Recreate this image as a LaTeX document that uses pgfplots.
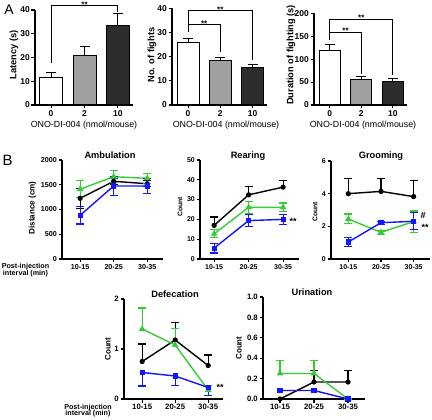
\documentclass[border=0pt]{standalone}
\usepackage{fontspec}
\setmainfont{Liberation Sans}
\usepackage{pgfplots}
\pgfplotsset{compat=1.18}
\definecolor{pgreen}{RGB}{51,204,51}
\definecolor{pblue}{RGB}{20,20,255}
\definecolor{bargray}{RGB}{160,160,160}
\definecolor{bardark}{RGB}{45,45,45}
\newcommand{\fs}[1]{\fontsize{#1}{#1}\selectfont}
\tikzset{stars/.style={anchor=base, yshift=-1.5bp, inner sep=0pt, font=\bfseries\fs{8}}}

\pgfplotsset{
  base/.style={scale only axis, anchor=south west,
    axis x line*=bottom, axis y line*=left,
    axis line style={-, line width=1.1pt},
    tick style={black, line width=1.1pt},
    tick align=outside, major tick length=3.5bp, clip=false,
    xtick={0,1,2}, ymin=0, scaled y ticks=false,
    /pgf/number format/assume math mode=true,
    /pgf/number format/1000 sep={},
    yticklabel style={inner sep=1.5bp},
    xticklabel style={inner sep=1.5bp}},
  barax/.style={base, xticklabels={0,2,10},
    ticklabel style={font=\bfseries\fs{8.5}}},
  lineax/.style={base, xticklabels={10-15,20-25,30-35},
    ticklabel style={font=\bfseries\fs{#1}}},
  bar/.style n args={2}{ybar, bar shift=0pt, bar width=#2, fill=#1, draw=black, line width=1pt,
    error bars/y dir=plus, error bars/y explicit,
    error bars/error bar style={black, line width=1pt},
    error bars/error mark options={black, line width=1pt, mark size=5bp, rotate=90}},
  brk/.style={sharp plot, no marks, black, line width=1pt},
  ser/.style n args={3}{color=#1, line width=1.4pt, mark=#2, mark size=#3,
    mark options={solid, fill=#1, draw=#1, line width=1pt},
    error bars/y explicit,
    error bars/error bar style={#1, line width=1.2pt},
    error bars/error mark options={#1, line width=1.2pt, mark size=4bp, rotate=90}},
  sblk/.style={ser={black}{*}{2.1bp}},
  sgrn/.style={ser={pgreen}{triangle*}{2.8bp}},
  sblu/.style={ser={pblue}{square*}{2.1bp}},
}

\begin{document}
\begin{tikzpicture}
\useasboundingbox (0,0) rectangle (432bp,420bp);

% ---------- A1 Latency
\begin{axis}[barax, at={(35bp,315bp)}, width=98bp, height=95bp,
  xmin=-0.48, xmax=2.45, ymax=40, ytick={0,10,20,30,40}]
\addplot[bar={white}{23bp}] coordinates {(0,11.6) +- (0,2.2)};
\addplot[bar={bargray}{23bp}] coordinates {(1,21) +- (0,3.8)};
\addplot[bar={bardark}{23bp}] coordinates {(2,33.3) +- (0,5.3)};
\addplot[brk] coordinates {(0,17.5) (0,42) (2,42) (2,39)};
\node[stars, yshift=-1bp] at (axis cs:1,42) {**};
\end{axis}

% ---------- A2 No. of fights
\begin{axis}[barax, at={(172bp,315bp)}, width=95bp, height=96.7bp,
  xmin=-0.5, xmax=2.45, ymax=40, ytick={0,10,20,30,40}]
\addplot[bar={white}{22bp}] coordinates {(0,25.9) +- (0,1.7)};
\addplot[bar={bargray}{22bp}] coordinates {(1,18.6) +- (0,1.0)};
\addplot[bar={bardark}{22bp}] coordinates {(2,15.6) +- (0,1.2)};
\addplot[brk] coordinates {(0,30.2) (0,33.1) (1,33.1) (1,22)};
\addplot[brk] coordinates {(0,31) (0,38.9) (2,38.9) (2,18.6)};
\node[stars] at (axis cs:0.5,33.1) {**};
\node[stars] at (axis cs:1,38.9) {**};
\end{axis}

% ---------- A3 Duration of fighting
\begin{axis}[barax, at={(314bp,315bp)}, width=93bp, height=91.7bp,
  xmin=-0.5, xmax=2.45, ymax=200, ytick={0,50,100,150,200}]
\addplot[bar={white}{21bp}] coordinates {(0,118.4) +- (0,14.6)};
\addplot[bar={bargray}{21bp}] coordinates {(1,56.5) +- (0,5)};
\addplot[bar={bardark}{21bp}] coordinates {(2,52) +- (0,6)};
\addplot[brk] coordinates {(0,141.8) (0,158.6) (1,158.6) (1,67.6)};
\addplot[brk] coordinates {(0,141.8) (0,187) (2,187) (2,65.4)};
\node[stars] at (axis cs:0.5,158.6) {**};
\node[stars] at (axis cs:1,187) {**};
\end{axis}

% ---------- Ambulation
\begin{axis}[lineax=7.2, at={(62bp,161bp)}, width=101bp, height=99bp,
  xmin=-0.54, xmax=2.47, ymax=2000, ytick={0,500,1000,1500,2000}]
\addplot[sblk, error bars/y dir=both] coordinates {(0,1226) +- (0,200) (1,1570) +- (0,60) (2,1520) +- (0,60)};
\addplot[sgrn, error bars/y dir=both] coordinates {(0,1410) +- (0,170) (1,1663) +- (0,120) (2,1630) +- (0,100)};
\addplot[sblu, error bars/y dir=both] coordinates {(0,883) +- (0,176) (1,1475) +- (0,196) (2,1475) +- (0,150)};
\end{axis}

% ---------- Rearing
\begin{axis}[lineax=7.0, at={(200bp,161bp)}, width=99bp, height=99bp,
  xmin=-0.41, xmax=2.46, ymax=50, ytick={0,10,20,30,40,50}]
\addplot[sblk, error bars/y dir=plus] coordinates {(0,17) +- (0,4.2) (1,32.4) +- (0,4.1) (2,36.3) +- (0,3.5)};
\addplot[sgrn, error bars/y dir=both] coordinates {(0,12.7) +- (0,2) (1,26.1) +- (0,3) (2,26.1) +- (0,2.2)};
\addplot[sblu, error bars/y dir=both] coordinates {(0,5.5) +- (0,2.5) (1,19.4) +- (0,3) (2,20) +- (0,2.6)};
\end{axis}

% ---------- Grooming
\begin{axis}[lineax=7.0, at={(331bp,161bp)}, width=99bp, height=98bp,
  xmin=-0.53, xmax=2.5, ymax=6, ytick={0,2,4,6}]
\addplot[sblk, error bars/y dir=plus] coordinates {(0,4.0) +- (0,0.92) (1,4.14) +- (0,0.78) (2,3.82) +- (0,0.98)};
\addplot[sgrn, error bars/y dir=both] coordinates {(0,2.45) +- (0,0.3) (1,1.63) +- (0,0.12) (2,2.29) +- (0,0.65)};
\addplot[sblu, error bars/y dir=both] coordinates {(0,1.04) +- (0,0.28) (1,2.22) +- (0,0.1) (2,2.31) +- (0,0.52)};
\end{axis}

% ---------- Defecation
\begin{axis}[lineax=7.8, at={(124bp,21bp)}, width=99bp, height=100bp,
  xmin=-0.55, xmax=2.45, ymax=2, ytick={0,1,2}]
\addplot[sblk, error bars/y dir=plus] coordinates {(0,0.75) +- (0,0.35) (1,1.18) +- (0,0.35) (2,0.67) +- (0,0.21)};
\addplot[sgrn, error bars/y dir=plus] coordinates {(0,1.4) +- (0,0.42) (1,1.08) +- (0,0.33) (2,0.18) +- (0,0.09)};
\addplot[sblu, error bars/y dir=minus] coordinates {(0,0.53) +- (0,0.27) (1,0.46) +- (0,0.19) (2,0.23) +- (0,0.16)};
\end{axis}

% ---------- Urination
\begin{axis}[lineax=7.8, at={(263bp,21bp)}, width=102bp, height=102bp,
  xmin=-0.5, xmax=2.5, ymax=1, ytick={0,0.2,0.4,0.6,0.8,1.0},
  yticklabel style={/pgf/number format/.cd, fixed, fixed zerofill, precision=1}]
\addplot[sblk, error bars/y dir=plus] coordinates {(0,0) +- (0,0) (1,0.167) +- (0,0.11) (2,0.167) +- (0,0.11)};
\addplot[sgrn, error bars/y dir=plus] coordinates {(0,0.25) +- (0,0.125) (1,0.25) +- (0,0.125) (2,0) +- (0,0)};
\addplot[sblu] coordinates {(0,0.083) (1,0.083) (2,0)};
\end{axis}

% ---------- labels
\node[font=\fs{14}] at (9bp,410bp) {A};
\node[font=\fs{15}] at (7.5bp,260bp) {B};

\node[rotate=90, font=\bfseries\fs{9.3}] at (14bp,365bp) {Latency (s)};
\node[rotate=90, font=\bfseries\fs{9.3}] at (152bp,365bp) {No. of fights};
\node[rotate=90, font=\bfseries\fs{9.3}] at (291bp,365bp) {Duration of fighting (s)};
\node[font=\fs{8.9}] at (84bp,295bp) {ONO-DI-004 (nmol/mouse)};
\node[font=\fs{8.9}] at (226bp,295bp) {ONO-DI-004 (nmol/mouse)};
\node[font=\fs{8.9}] at (363bp,295bp) {ONO-DI-004 (nmol/mouse)};

\node[font=\bfseries\fs{9.3}] at (110bp,265bp) {Ambulation};
\node[font=\bfseries\fs{9.3}] at (248bp,264bp) {Rearing};
\node[font=\bfseries\fs{9.3}] at (381bp,264bp) {Grooming};
\node[font=\bfseries\fs{9.3}] at (175bp,126bp) {Defecation};
\node[font=\bfseries\fs{9.3}] at (312bp,128bp) {Urination};

\node[rotate=90, font=\bfseries\fs{8.1}] at (32.5bp,212bp) {Distance (cm)};
\node[rotate=90, font=\bfseries\fs{6.8}] at (180bp,213bp) {Count};
\node[rotate=90, font=\bfseries\fs{6.8}] at (315bp,208bp) {Count};
\node[rotate=90, font=\bfseries\fs{8}] at (108bp,71bp) {Count};
\node[rotate=90, font=\bfseries\fs{8}] at (239bp,72bp) {Count};

\node[font=\bfseries\fs{7.2}, align=center] at (25.5bp,150bp) {Post-injection\\[-0.8bp]interval (min)};
\node[font=\bfseries\fs{7.2}, align=center] at (88bp,9.5bp) {Post-injection\\[-0.8bp]interval (min)};

\node[font=\bfseries\fs{9}] at (293bp,199bp) {**};
\node[font=\bfseries\fs{9}] at (423bp,205bp) {\#};
\node[font=\bfseries\fs{9}] at (425bp,193bp) {**};
\node[font=\bfseries\fs{9}] at (220bp,33bp) {**};
\end{tikzpicture}
\end{document}
